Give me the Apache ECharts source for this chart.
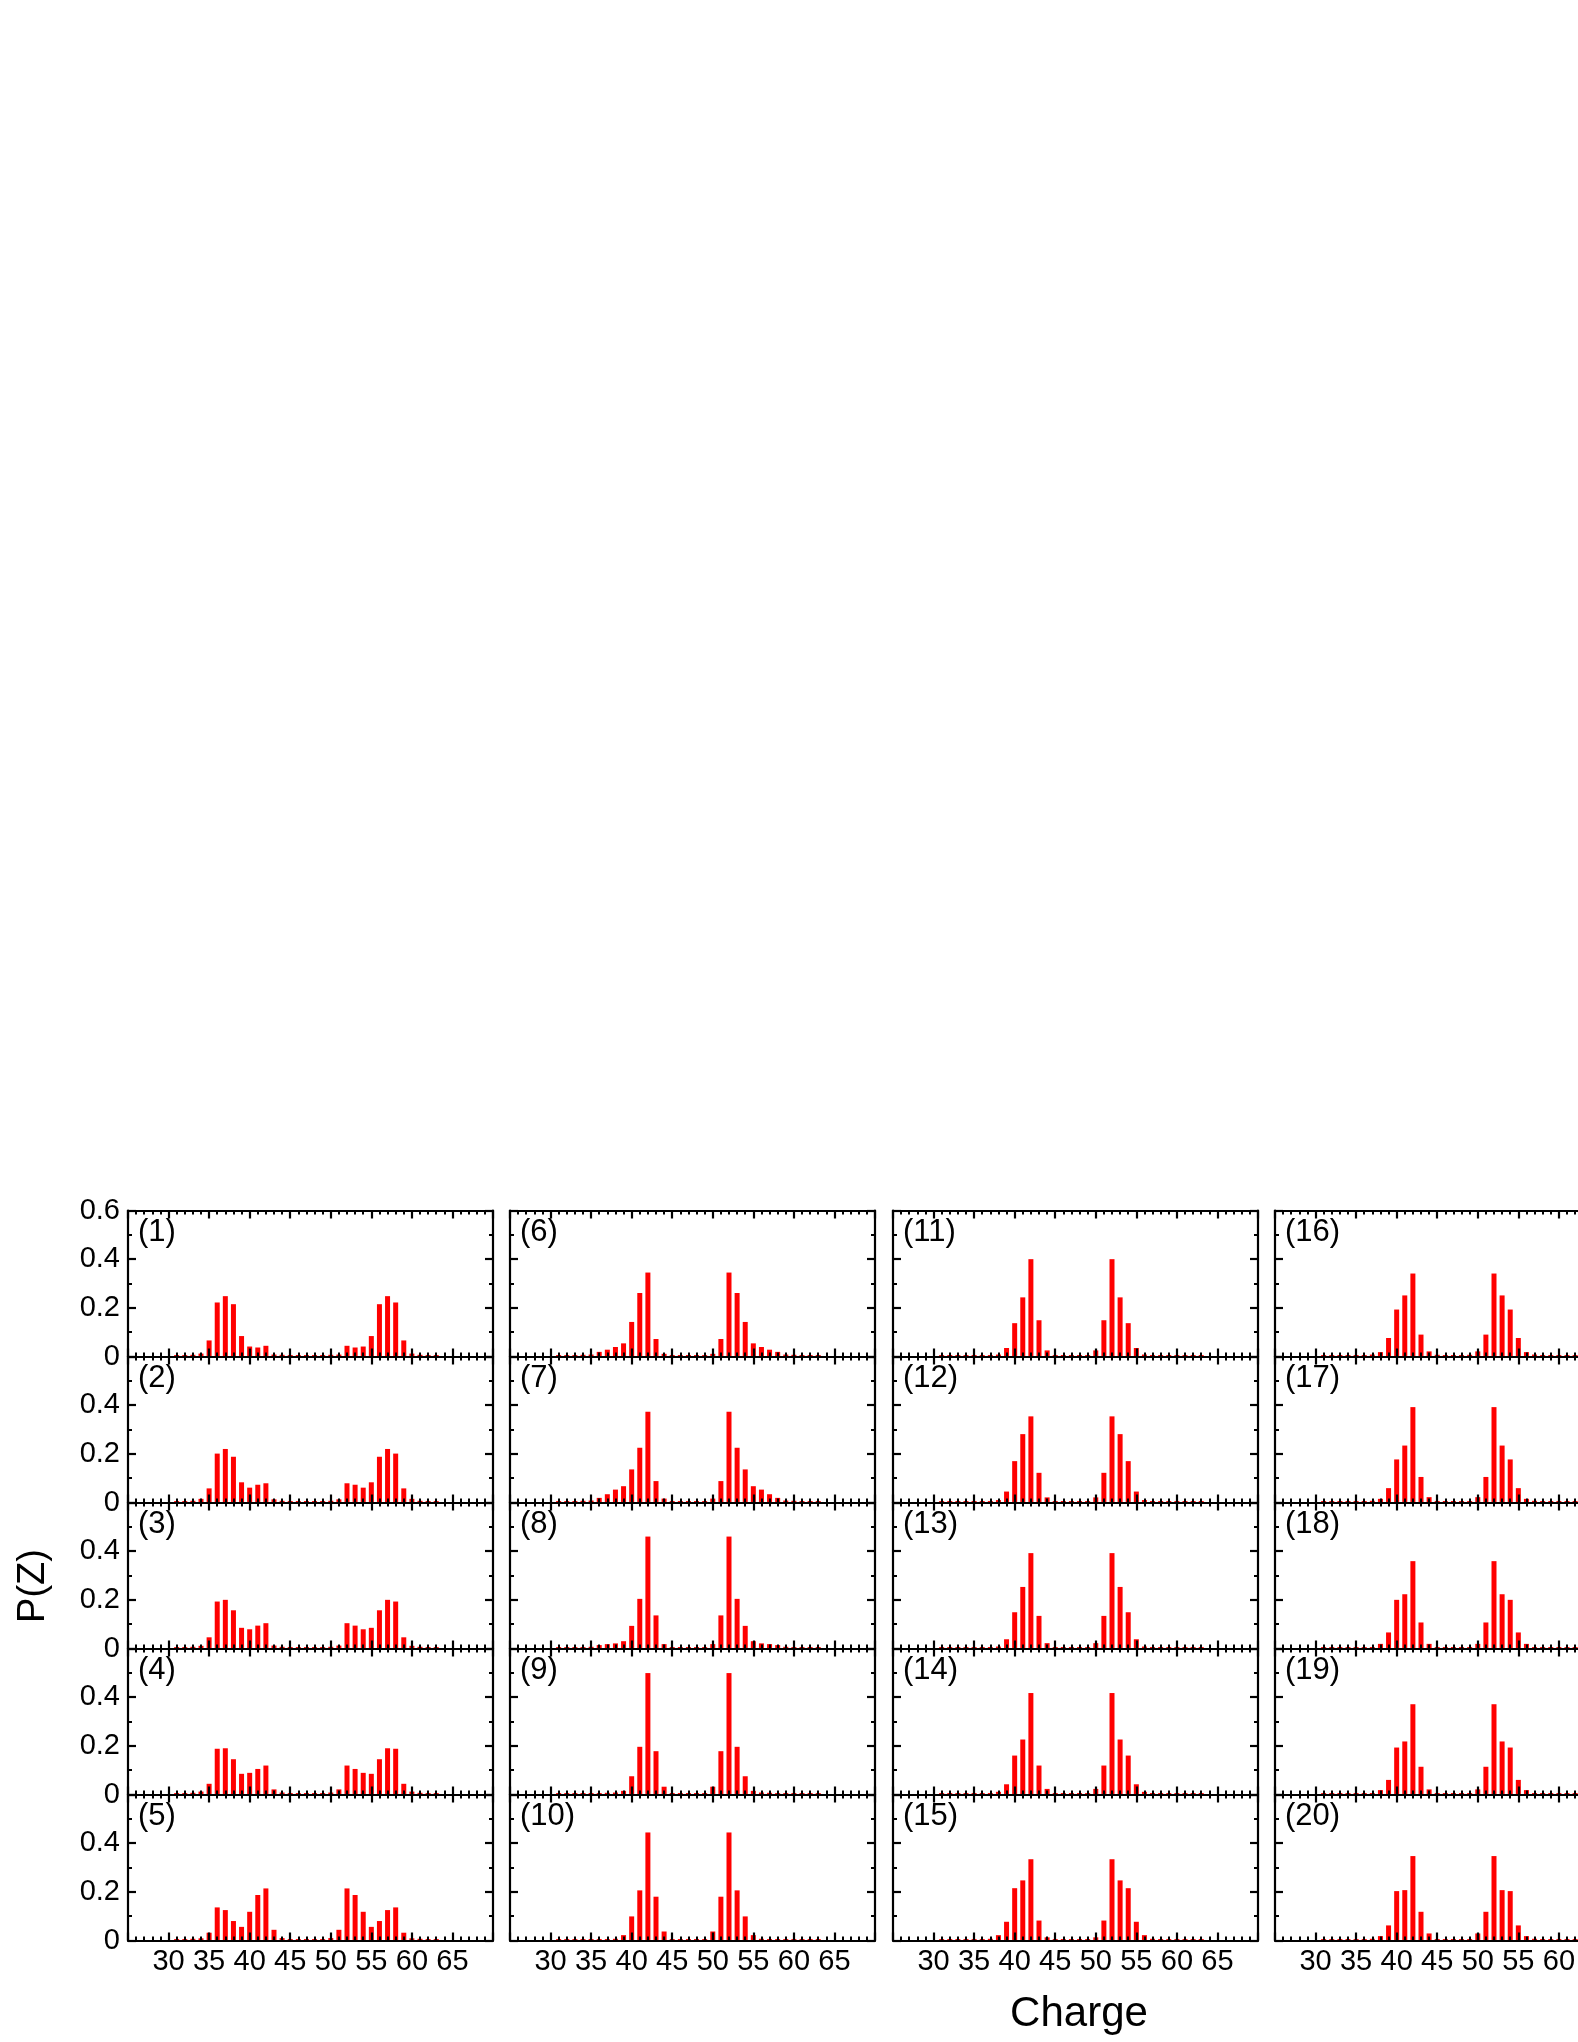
<!DOCTYPE html>
<html><head><meta charset="utf-8">
<script src="https://cdn.jsdelivr.net/npm/echarts@6/dist/echarts.min.js"></script>
<style>html,body{margin:0;padding:0;background:#fff;overflow:hidden}#c{width:1680px;height:2042px}</style>
</head><body><div id="c"></div>
<script>
// Charge values (x) for all panels
const charges = [31,32,33,34,35,36,37,38,39,40,41,42,43,44,45,46,47,48,49,50,51,52,53,54,55,56,57,58,59,60,61,62,63];
const xTickLabels = [30,35,40,45,50,55,60,65];
const yTickLabels = ['0','0.2','0.4','0.6'];
const panelLabels = ['(1)','(2)','(3)','(4)','(5)','(6)','(7)','(8)','(9)','(10)','(11)','(12)','(13)','(14)','(15)','(16)','(17)','(18)','(19)','(20)'];

// P(Z) for each panel, charges 31..63
const p1  = [0.006,0.006,0.007,0.012,0.066,0.222,0.248,0.215,0.084,0.041,0.037,0.044,0.008,0.007,0.006,0.006,0.006,0.006,0.006,0.007,0.008,0.044,0.037,0.041,0.084,0.215,0.248,0.222,0.066,0.012,0.007,0.006,0.006];
const p2  = [0.006,0.006,0.007,0.015,0.058,0.201,0.220,0.188,0.083,0.061,0.073,0.079,0.013,0.007,0.006,0.006,0.006,0.006,0.006,0.007,0.013,0.079,0.073,0.061,0.083,0.188,0.220,0.201,0.058,0.015,0.007,0.006,0.006];
const p3  = [0.006,0.006,0.007,0.011,0.046,0.193,0.200,0.157,0.085,0.079,0.094,0.104,0.012,0.007,0.006,0.006,0.006,0.006,0.006,0.007,0.012,0.104,0.094,0.079,0.085,0.157,0.200,0.193,0.046,0.011,0.007,0.006,0.006];
const p4  = [0.006,0.006,0.007,0.012,0.044,0.188,0.190,0.145,0.085,0.089,0.105,0.119,0.021,0.008,0.006,0.006,0.006,0.006,0.006,0.008,0.021,0.119,0.105,0.089,0.085,0.145,0.190,0.188,0.044,0.012,0.007,0.006,0.006];
const p5  = [0.006,0.006,0.007,0.009,0.032,0.136,0.125,0.080,0.056,0.118,0.187,0.214,0.044,0.010,0.006,0.006,0.006,0.006,0.006,0.010,0.044,0.214,0.187,0.118,0.056,0.080,0.125,0.136,0.032,0.009,0.007,0.006,0.006];
const p6  = [0.006,0.006,0.006,0.007,0.008,0.019,0.028,0.039,0.054,0.142,0.261,0.345,0.072,0.011,0.006,0.006,0.006,0.006,0.006,0.011,0.072,0.345,0.261,0.142,0.054,0.039,0.028,0.019,0.008,0.007,0.006,0.006,0.006];
const p7  = [0.006,0.006,0.006,0.007,0.008,0.019,0.034,0.053,0.067,0.136,0.225,0.373,0.088,0.016,0.006,0.006,0.006,0.006,0.006,0.016,0.088,0.373,0.225,0.136,0.067,0.053,0.034,0.019,0.008,0.007,0.006,0.006,0.006];
const p8  = [0.006,0.006,0.006,0.006,0.007,0.014,0.018,0.021,0.030,0.093,0.204,0.460,0.136,0.018,0.006,0.006,0.006,0.006,0.006,0.018,0.136,0.460,0.204,0.093,0.030,0.021,0.018,0.014,0.007,0.006,0.006,0.006,0.006];
const p9  = [0.006,0.006,0.006,0.006,0.006,0.006,0.007,0.008,0.015,0.075,0.196,0.499,0.178,0.032,0.006,0.006,0.006,0.006,0.006,0.032,0.178,0.499,0.196,0.075,0.015,0.008,0.007,0.006,0.006,0.006,0.006,0.006,0.006];
const p10 = [0.006,0.006,0.006,0.006,0.006,0.006,0.006,0.007,0.022,0.099,0.206,0.444,0.180,0.037,0.006,0.006,0.006,0.006,0.006,0.037,0.180,0.444,0.206,0.099,0.022,0.007,0.006,0.006,0.006,0.006,0.006,0.006,0.006];
const p11 = [0.006,0.006,0.006,0.006,0.006,0.006,0.006,0.008,0.035,0.137,0.243,0.400,0.149,0.025,0.006,0.006,0.006,0.006,0.006,0.025,0.149,0.400,0.243,0.137,0.035,0.008,0.006,0.006,0.006,0.006,0.006,0.006,0.006];
const p12 = [0.006,0.006,0.006,0.006,0.006,0.006,0.006,0.010,0.045,0.170,0.281,0.354,0.122,0.021,0.006,0.006,0.006,0.006,0.006,0.021,0.122,0.354,0.281,0.170,0.045,0.010,0.006,0.006,0.006,0.006,0.006,0.006,0.006];
const p13 = [0.006,0.006,0.006,0.006,0.006,0.006,0.006,0.008,0.038,0.149,0.253,0.392,0.134,0.022,0.006,0.006,0.006,0.006,0.006,0.022,0.134,0.392,0.253,0.149,0.038,0.008,0.006,0.006,0.006,0.006,0.006,0.006,0.006];
const p14 = [0.006,0.006,0.006,0.006,0.006,0.006,0.006,0.011,0.042,0.160,0.226,0.417,0.119,0.023,0.006,0.006,0.006,0.006,0.006,0.023,0.119,0.417,0.226,0.160,0.042,0.011,0.006,0.006,0.006,0.006,0.006,0.006,0.006];
const p15 = [0.006,0.006,0.006,0.006,0.006,0.006,0.007,0.022,0.077,0.215,0.247,0.334,0.082,0.013,0.006,0.006,0.006,0.006,0.006,0.013,0.082,0.334,0.247,0.215,0.077,0.022,0.007,0.006,0.006,0.006,0.006,0.006,0.006];
const p16 = [0.006,0.006,0.006,0.006,0.006,0.006,0.008,0.018,0.076,0.193,0.251,0.341,0.090,0.021,0.007,0.006,0.006,0.006,0.007,0.021,0.090,0.341,0.251,0.193,0.076,0.018,0.008,0.006,0.006,0.006,0.006,0.006,0.006];
const p17 = [0.006,0.006,0.006,0.006,0.006,0.006,0.007,0.015,0.059,0.177,0.234,0.392,0.105,0.022,0.006,0.006,0.006,0.006,0.006,0.022,0.105,0.392,0.234,0.177,0.059,0.015,0.007,0.006,0.006,0.006,0.006,0.006,0.006];
const p18 = [0.006,0.006,0.006,0.006,0.006,0.006,0.006,0.019,0.066,0.200,0.223,0.359,0.107,0.019,0.006,0.006,0.006,0.006,0.006,0.019,0.107,0.359,0.223,0.200,0.066,0.019,0.006,0.006,0.006,0.006,0.006,0.006,0.006];
const p19 = [0.006,0.006,0.006,0.006,0.006,0.006,0.006,0.018,0.060,0.193,0.218,0.371,0.114,0.021,0.006,0.006,0.006,0.006,0.006,0.021,0.114,0.371,0.218,0.193,0.060,0.018,0.006,0.006,0.006,0.006,0.006,0.006,0.006];
const p20 = [0.006,0.006,0.006,0.006,0.006,0.006,0.007,0.018,0.062,0.203,0.207,0.347,0.118,0.029,0.006,0.006,0.006,0.006,0.006,0.029,0.118,0.347,0.207,0.203,0.062,0.018,0.007,0.006,0.006,0.006,0.006,0.006,0.006];

const panels = [p1,p2,p3,p4,p5,p6,p7,p8,p9,p10,p11,p12,p13,p14,p15,p16,p17,p18,p19,p20];

const FONT = '"Liberation Sans", Arial, Helvetica, sans-serif';
const colLeft = [128, 510, 893, 1275];
const W = 365, TOP0 = 1210.5, H = 146;

const grid = [], xAxis = [], yAxis = [], series = [], title = [];
const line = {show:true, onZero:false, lineStyle:{color:'#000', width:2.2}};
panels.forEach((vals, k) => {
  const col = Math.floor(k / 5), row = k % 5;
  const left = colLeft[col], top = TOP0 + row * H;
  grid.push({left:left, top:top, width:W, height:H, containLabel:false});
  const xBase = {
    gridIndex:k, type:'value', min:25, max:70, interval:5, z:10,
    axisLine: line,
    axisTick:{show:true, inside:true, length:8, lineStyle:{color:'#000', width:2.2}},
    minorTick:{show:true, splitNumber:5, length:4, lineStyle:{color:'#000', width:2}},
    splitLine:{show:false}, minorSplitLine:{show:false}
  };
  xAxis.push(Object.assign({}, xBase, {position:'bottom',
    axisLabel:{show: row === 4, fontSize:29, color:'#000', fontFamily:FONT, margin:7,
      formatter: v => xTickLabels.indexOf(v) >= 0 ? String(v) : ''}}));
  xAxis.push(Object.assign({}, xBase, {position:'top', axisLabel:{show:false}}));
  const yBase = {
    gridIndex:k, type:'value', min:0, max:0.6, interval:0.2, z:10,
    axisLine: line,
    axisTick:{show:true, inside:true, length:8, lineStyle:{color:'#000', width:2.2}},
    minorTick:{show:true, splitNumber:2, length:4, lineStyle:{color:'#000', width:2}},
    splitLine:{show:false}, minorSplitLine:{show:false}
  };
  yAxis.push(Object.assign({}, yBase, {position:'left',
    axisLabel:{show: col === 0, fontSize:29, color:'#000', fontFamily:FONT, margin:8,
      formatter: v => { const i = Math.round(v / 0.2); if (row > 0 && i === 3) return ''; return yTickLabels[i]; }}}));
  yAxis.push(Object.assign({}, yBase, {position:'right', axisLabel:{show:false}}));
  series.push({
    type:'bar', xAxisIndex:2*k, yAxisIndex:2*k, barWidth:5, z:2,
    itemStyle:{color:'#ff0000'},
    data: charges.map((c, i) => [c, vals[i]])
  });
  title.push({text: panelLabels[k], left: left + 10, top: top + 6, padding:0,
    textStyle:{fontSize:31, fontWeight:'normal', color:'#000', fontFamily:FONT}});
});

const chart = echarts.init(document.getElementById('c'), null, {renderer:'canvas'});
chart.setOption({
  animation:false,
  backgroundColor:'#fff',
  title, grid, xAxis, yAxis, series,
  graphic:[
    {type:'text', x:1079, y:2014, style:{text:'Charge', fontSize:42, fontFamily:FONT, fill:'#000', align:'center', verticalAlign:'middle'}},
    {type:'text', x:34, y:1586, rotation:Math.PI/2, style:{text:'P(Z)', fontSize:38, fontFamily:FONT, fill:'#000', align:'center', verticalAlign:'middle'}}
  ]
});
</script></body></html>
